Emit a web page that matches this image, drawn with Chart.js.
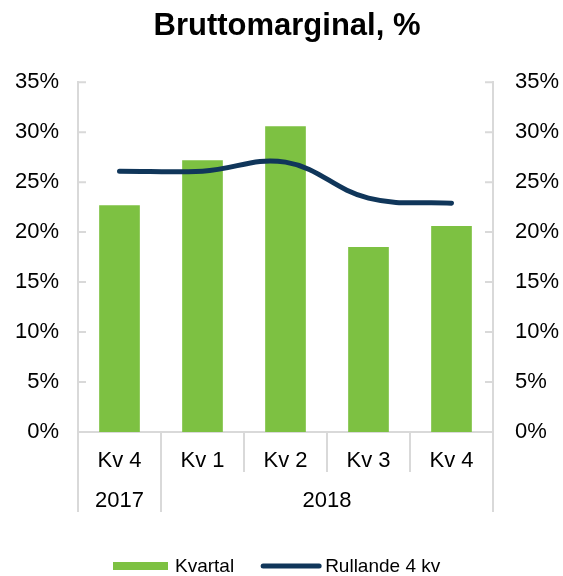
<!DOCTYPE html>
<html>
<head>
<meta charset="utf-8">
<script src="https://cdn.jsdelivr.net/npm/chart.js@4/dist/chart.umd.min.js"></script>
<style>
  html, body { margin: 0; padding: 0; background: #fff; }
  #wrap { width: 563px; height: 576px; }
</style>
</head>
<body>
<div id="wrap"><canvas id="myChart" width="563" height="576"></canvas></div>
<script>
// Bruttomarginal chart

const quarters = ["Kv 4", "Kv 1", "Kv 2", "Kv 3", "Kv 4"];
const years = ["2017", "2018", "2018", "2018", "2018"];
const kvartal = [22.7, 27.2, 30.6, 18.5, 20.6];
const rullande = [26.1, 26.1, 27.0, 23.4, 22.9];

const gridColor = "#D9D9D9";
const fontFamily = "'Liberation Sans', Arial, sans-serif";

//separators, year row, inner tick marks and legend
const groupAxisPlugin = {
  id: "groupAxis",
  afterDraw(chart) {
    const ctx = chart.ctx;
    const x = chart.scales.x;
    const y = chart.scales.y;
    const area = chart.chartArea;
    const base = area.bottom;

    ctx.save();
    ctx.strokeStyle = gridColor;
    ctx.lineWidth = 2;

    //inner ticks on both value axes
    y.ticks.forEach((t) => {
      const py = y.getPixelForValue(t.value);
      ctx.beginPath();
      ctx.moveTo(area.left, py);
      ctx.lineTo(area.left + 8, py);
      ctx.moveTo(area.right, py);
      ctx.lineTo(area.right - 8, py);
      ctx.stroke();
    });

    //category separators
    for (let i = 0; i <= quarters.length; i++) {
      let px;
      if (i === 0) px = area.left;
      else if (i === quarters.length) px = area.right;
      else px = (x.getPixelForValue(i - 1) + x.getPixelForValue(i)) / 2;
      const longLine =
        i === 0 || i === quarters.length || years[i] !== years[i - 1];
      ctx.beginPath();
      ctx.moveTo(px, base);
      ctx.lineTo(px, base + (longLine ? 80 : 40));
      ctx.stroke();
    }

    //year labels
    ctx.fillStyle = "#000";
    ctx.font = "22px " + fontFamily;
    ctx.textAlign = "center";
    ctx.textBaseline = "middle";
    let start = 0;
    for (let i = 1; i <= years.length; i++) {
      if (i === years.length || years[i] !== years[start]) {
        const left = start === 0 ? area.left
          : (x.getPixelForValue(start - 1) + x.getPixelForValue(start)) / 2;
        const right = i === years.length ? area.right
          : (x.getPixelForValue(i - 1) + x.getPixelForValue(i)) / 2;
        ctx.fillText(years[start], (left + right) / 2, base + 69);
        start = i;
      }
    }

    //legend
    const ly = 566;
    let lx = 113;
    ctx.font = "19px " + fontFamily;
    ctx.textAlign = "left";
    const barSet = chart.data.datasets[1];
    const lineSet = chart.data.datasets[0];
    ctx.fillStyle = barSet.backgroundColor;
    ctx.fillRect(lx, ly - 4, 55, 8);
    ctx.fillStyle = "#000";
    ctx.fillText(barSet.label, lx + 62, ly + 1);
    lx = lx + 62 + ctx.measureText(barSet.label).width + 27;
    ctx.strokeStyle = lineSet.borderColor;
    ctx.lineWidth = 5;
    ctx.lineCap = "round";
    ctx.beginPath();
    ctx.moveTo(lx + 2, ly);
    ctx.lineTo(lx + 58, ly);
    ctx.stroke();
    ctx.fillText(lineSet.label, lx + 64, ly + 1);
    ctx.restore();
  },
};

new Chart("myChart", {
  data: {
    labels: quarters,
    datasets: [
      {
        type: "line",
        label: "Rullande 4 kv",
        data: rullande,
        borderColor: "#10365A",
        backgroundColor: "#10365A",
        borderWidth: 5,
        borderCapStyle: "round",
        pointRadius: 0,
        tension: 0.4,
        yAxisID: "y",
        order: 0,
      },
      {
        type: "bar",
        label: "Kvartal",
        data: kvartal,
        backgroundColor: "#7DC142",
        borderWidth: 0,
        barPercentage: 0.49,
        categoryPercentage: 1,
        yAxisID: "y",
        order: 1,
      },
    ],
  },
  options: {
    responsive: false,
    animation: false,
    layout: { padding: { left: 11, right: 0, top: 0, bottom: 64 } },
    plugins: {
      title: {
        display: true,
        text: "Bruttomarginal, %",
        color: "#000",
        font: { family: fontFamily, size: 31, weight: "bold" },
        padding: { top: 8, bottom: 37 },
      },
      legend: { display: false },
      tooltip: { enabled: false },
    },
    scales: {
      x: {
        grid: { display: false, drawTicks: false },
        border: { display: true, color: gridColor, width: 2 },
        ticks: {
          color: "#000",
          font: { family: fontFamily, size: 22 },
          padding: 16,
          maxRotation: 0,
        },
        afterFit(scale) {
          scale.height = 80;
        },
      },
      y: {
        position: "left",
        min: 0,
        max: 35,
        grid: { display: false, drawTicks: false },
        border: { display: true, color: gridColor, width: 2 },
        ticks: {
          stepSize: 5,
          color: "#000",
          padding: 19,
          font: { family: fontFamily, size: 22 },
          callback: (v) => v + "%",
        },
        afterFit(scale) {
          scale.width = 67;
        },
      },
      y1: {
        position: "right",
        min: 0,
        max: 35,
        grid: { display: false, drawTicks: false },
        border: { display: true, color: gridColor, width: 2 },
        ticks: {
          stepSize: 5,
          color: "#000",
          padding: 22,
          font: { family: fontFamily, size: 22 },
          callback: (v) => v + "%",
        },
        afterFit(scale) {
          scale.width = 70;
        },
      },
    },
  },
  plugins: [groupAxisPlugin],
});
</script>
</body>
</html>
